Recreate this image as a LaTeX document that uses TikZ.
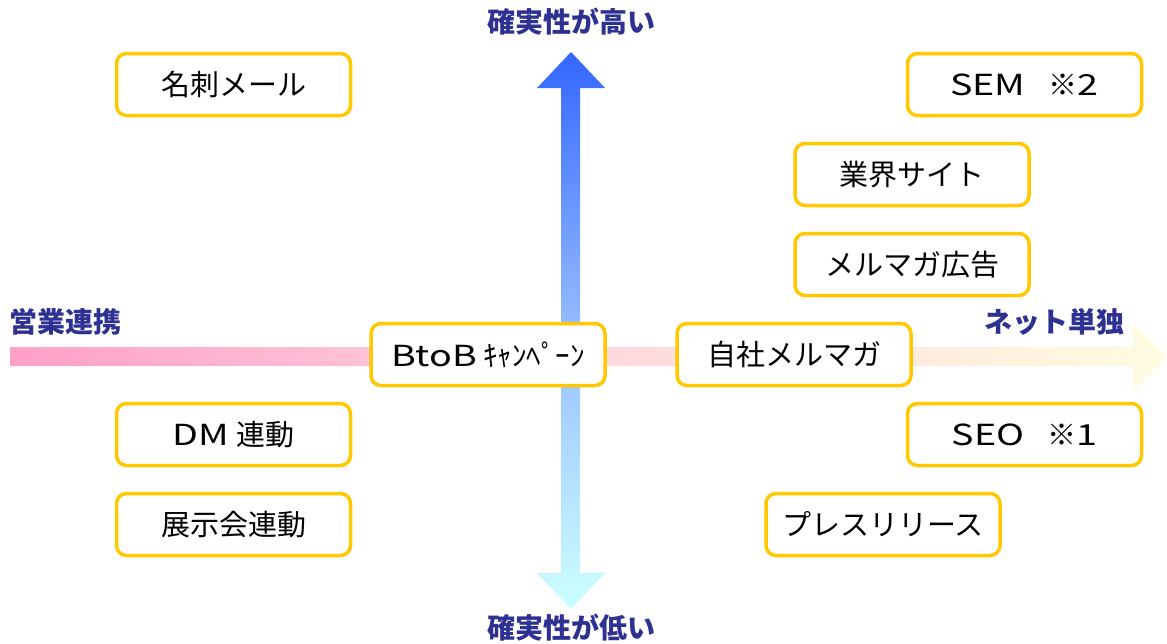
\documentclass[tikz,border=0pt]{standalone}
\usepackage{fontspec}
\setmainfont{Noto Sans CJK JP}
\newfontfamily\cjk{Noto Sans CJK JP}
\newfontfamily\lat[FakeStretch=1.3]{Noto Sans CJK JP}
\usetikzlibrary{shadings}
\definecolor{gold}{HTML}{FFC800}
\definecolor{navy}{HTML}{2E3192}
\definecolor{pinkL}{HTML}{FFA0C8}
\definecolor{yelR}{HTML}{FFFCE0}
\definecolor{blueT}{HTML}{3366FF}
\definecolor{cyanB}{HTML}{CCFFFF}
\tikzset{
  itembox/.style={draw=gold, line width=3.5pt, rounded corners=10pt, fill=white,
    minimum width=234pt, minimum height=62pt, inner sep=0pt, font=\cjk\fontsize{29}{32}\selectfont},
  axislabel/.style={text=navy, font=\cjk\bfseries\fontsize{28}{32}\selectfont, inner sep=0pt}
}
\begin{document}
\begin{tikzpicture}[x=1pt,y=-1pt]
\useasboundingbox (0,0) rectangle (1167,643);
% horizontal arrow
\shade[left color=pinkL, right color=yelR, middle color={rgb,255:red,255;green,215;blue,222}]
  (10,347) -- (1133,347) -- (1133,323) -- (1167,357) -- (1133,391) -- (1133,366) -- (10,366) -- cycle;
% vertical arrow
\shade[top color=blueT, bottom color=cyanB, middle color={rgb,255:red,150;green,190;blue,255}]
  (561,609) -- (561,88) -- (537,88) -- (571,52) -- (605,88) -- (580,88) -- (580,573) -- (605,573) -- (571,609) -- (537,573) -- (561,573) -- cycle;
% labels
\node[axislabel] (hi) at (571,22) {確実性が高い};
\node[axislabel] (lo) at (571,628) {確実性が低い};
\node[axislabel, anchor=west] (sales) at (9,322) {営業連携};
\node[axislabel, anchor=east] (net) at (1125,322) {ネット単独};
% boxes
\node[itembox] (meishi) at (233.5,84.5) {名刺メール};
\node[itembox] (sem) at (1024.5,84.5) {{\lat SEM}\hspace{0.8em}※{\lat 2}};
\node[itembox] (gyokai) at (912,174.5) {業界サイト};
\node[itembox] (merumaga) at (912,264.5) {メルマガ広告};
\node[itembox] (btob) at (488,354.5) {{\lat BtoB} ｷｬﾝﾍﾟｰﾝ};
\node[itembox] (jisha) at (794,354.5) {自社メルマガ};
\node[itembox] (dm) at (233.5,434.5) {{\lat DM} 連動};
\node[itembox] (seo) at (1024.5,434.5) {{\lat SEO}\hspace{0.8em}※{\lat 1}};
\node[itembox] (tenji) at (233.5,524.5) {展示会連動};
\node[itembox] (press) at (883,524.5) {プレスリリース};
\end{tikzpicture}
\end{document}
